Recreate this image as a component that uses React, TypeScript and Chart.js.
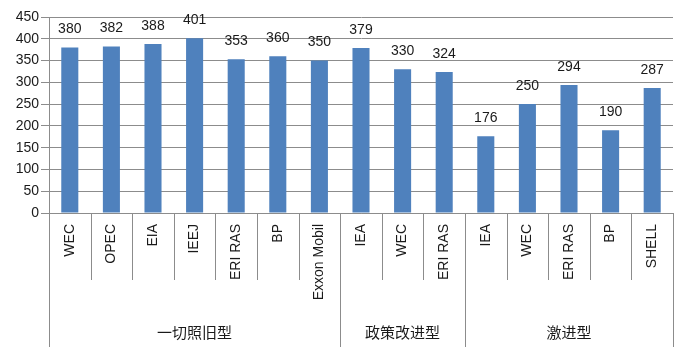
import React, { useEffect, useRef } from "react";
import { Chart, registerables } from "chart.js";

Chart.register(...registerables);

const categories = [
  "WEC", "OPEC", "EIA", "IEEJ", "ERI RAS", "BP", "Exxon Mobil",
  "IEA", "WEC", "ERI RAS",
  "IEA", "WEC", "ERI RAS", "BP", "SHELL",
];
const values = [380, 382, 388, 401, 353, 360, 350, 379, 330, 324, 176, 250, 294, 190, 287];
const groupNames = ["一切照旧型", "政策改进型", "激进型"];
const groupSizes = [7, 3, 5];
const yMin = 0;
const yMax = 450;
const yStep = 50;

const LINE = "#8c8c8c";
const TEXT = "#1a1a1a";

const overlayPlugin = {
  id: "overlay",
  afterDraw(chart: any) {
    const ctx = chart.ctx;
    const xs = chart.scales.x;
    const area = chart.chartArea;
    const n = categories.length;
    const w = (area.right - area.left) / n;
    const groupBounds = new Set<number>();
    let acc = 0;
    groupBounds.add(0);
    groupSizes.forEach((s) => {
      acc += s;
      groupBounds.add(acc);
    });
    ctx.save();
    ctx.strokeStyle = LINE;
    ctx.lineWidth = 1;
    for (let i = 0; i <= n; i++) {
      const x = Math.round(area.left + i * w) + 0.5;
      const yEnd = groupBounds.has(i) ? 347 : 280;
      ctx.beginPath();
      ctx.moveTo(x, area.bottom);
      ctx.lineTo(x, yEnd);
      ctx.stroke();
    }
    // group labels
    ctx.fillStyle = TEXT;
    ctx.font = '15px "Noto Sans CJK SC"';
    ctx.textAlign = "center";
    ctx.textBaseline = "middle";
    let start = 0;
    groupSizes.forEach((s, gi) => {
      const cx = area.left + (start + s / 2) * w;
      ctx.fillText(groupNames[gi], cx, 332);
      start += s;
    });
    // value labels
    const meta = chart.getDatasetMeta(0);
    ctx.font = '14px "Liberation Sans"';
    meta.data.forEach((bar: any, i: number) => {
      ctx.fillText(String(values[i]), bar.x, bar.y - 18);
    });
    ctx.restore();
  },
};

export default function App() {
  const ref = useRef<HTMLCanvasElement>(null);
  useEffect(() => {
    document.body.style.margin = "0";
    const canvas = ref.current!;
    const chart = new Chart(canvas, {
      type: "bar",
      data: {
        labels: categories,
        datasets: [
          {
            data: values,
            backgroundColor: "#4f81bd",
            barPercentage: 0.41,
            categoryPercentage: 1,
          },
        ],
      },
      options: {
        responsive: false,
        animation: false,
        layout: { padding: { top: 17, right: 14, left: 0, bottom: 0 } },
        plugins: { legend: { display: false }, tooltip: { enabled: false } },
        scales: {
          x: {
            grid: { display: false, drawTicks: false },
            border: { display: true, color: LINE },
            ticks: {
              autoSkip: false,
              maxRotation: 90,
              minRotation: 90,
              padding: 11,
              color: TEXT,
              font: { family: "Liberation Sans", size: 14 },
            },
            afterFit(scale: any) {
              scale.height = 141;
            },
          },
          y: {
            min: yMin,
            max: yMax,
            grid: { color: LINE, tickLength: 8 },
            border: { display: true, color: LINE },
            ticks: {
              stepSize: yStep,
              padding: 2,
              color: TEXT,
              font: { family: "Liberation Sans", size: 14 },
            },
            afterFit(scale: any) {
              scale.width = 49;
            },
          },
        },
      },
      plugins: [overlayPlugin],
    });
    return () => chart.destroy();
  }, []);
  return (
    <canvas
      ref={ref}
      width={687}
      height={354}
      style={{ display: "block", width: 687, height: 354 }}
    />
  );
}
